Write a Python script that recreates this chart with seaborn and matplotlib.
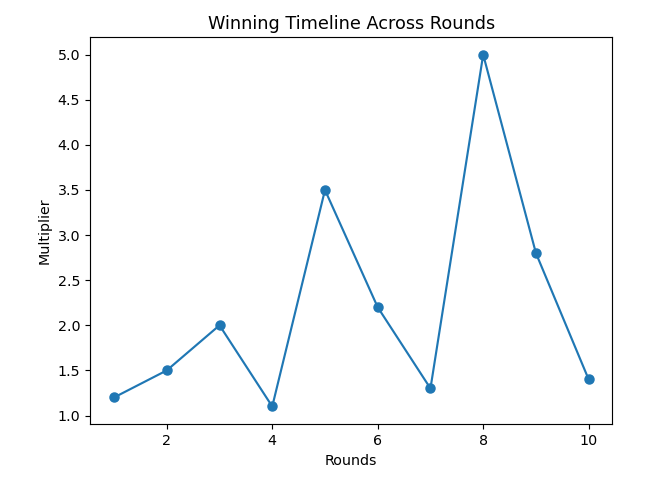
import matplotlib
matplotlib.use('Agg')
import matplotlib.pyplot as plt
import seaborn as sns
import pandas as pd

rounds = [1, 2, 3, 4, 5, 6, 7, 8, 9, 10]
multiplier = [1.2, 1.5, 2.0, 1.1, 3.5, 2.2, 1.3, 5.0, 2.8, 1.4]

df = pd.DataFrame({'Rounds': rounds, 'Multiplier': multiplier})

fig, ax = plt.subplots(figsize=(6.4, 4.738), dpi=103)
sns.lineplot(data=df, x='Rounds', y='Multiplier', marker='o', color='#1f77b4',
             markersize=6.3, markeredgecolor='#1f77b4', markeredgewidth=1, ax=ax)
ax.set_title('Winning Timeline Across Rounds', fontsize=12.3)
ax.set_xlabel('Rounds')
ax.set_ylabel('Multiplier')
plt.subplots_adjust(left=0.137, right=0.929, top=0.924, bottom=0.131)
plt.savefig('out.png', dpi=103)
plt.close()
